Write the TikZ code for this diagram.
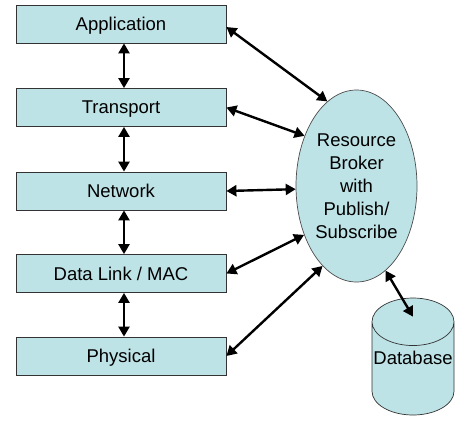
\documentclass[tikz,border=0pt]{standalone}
\usepackage{fontspec}
\setmainfont{Liberation Sans}
\usetikzlibrary{shapes,arrows.meta,positioning,calc}
\usepackage{xcolor}
\definecolor{layerfill}{RGB}{190,227,230}

\begin{document}
\begin{tikzpicture}[x=1pt, y=-1pt, every node/.style={font=\fontsize{18.5}{23}\selectfont},
    layer/.style={draw=black!80, fill=layerfill, line width=0.8pt, minimum width=210pt, minimum height=38pt, inner sep=0pt, text depth=0pt},
    link/.style={{Triangle[length=10pt,width=11pt]}-{Triangle[length=10pt,width=11pt]}, line width=2.4pt}]
            \useasboundingbox (0,0) rectangle (455,421);
            \node[layer] (app) at (121,24) {Application};
            \node[layer] (trans) at (121,107.5) {Transport};
            \node[layer] (net) at (121,191) {Network};
            \node[layer] (mac) at (121,273.5) {Data Link / MAC};
            \node[layer] (phy) at (121,356) {Physical};
            \node[draw=black!70, fill=layerfill, ellipse, line width=0.7pt, minimum width=121pt, minimum height=192pt, inner sep=0pt, align=center] (broker) at (356.5,186) {Resource\\Broker\\with\\Publish/\\Subscribe};
            \node[draw=black!80, fill=layerfill, cylinder, shape border rotate=90, aspect=0.6, line width=0.7pt, minimum width=82pt, minimum height=117pt, inner sep=0pt, text depth=22pt, anchor=shape center] (db) at (413,356.5) {Database};
            
            \draw[link] ([xshift=3pt]app.south) -- ([xshift=3pt]trans.north);
            \draw[link] ([xshift=3pt]trans.south) -- ([xshift=3pt]net.north);
            \draw[link] ([xshift=3pt]net.south) -- ([xshift=3pt]mac.north);
            \draw[link] ([xshift=3pt]mac.south) -- ([xshift=3pt]phy.north);
            
            \draw[link] ([yshift=-3pt]app.east) -- (broker.109);
            \draw[link] (trans.east) -- (broker.136);
            \draw[link] (net.east) -- (broker.183);
            \draw[link] (mac.east) -- (broker.223);
            \draw[link] (phy.east) -- (broker.247);
            \draw[link] (broker.289) -- ([yshift=-19pt]db.top);
        \end{tikzpicture}
\end{document}
